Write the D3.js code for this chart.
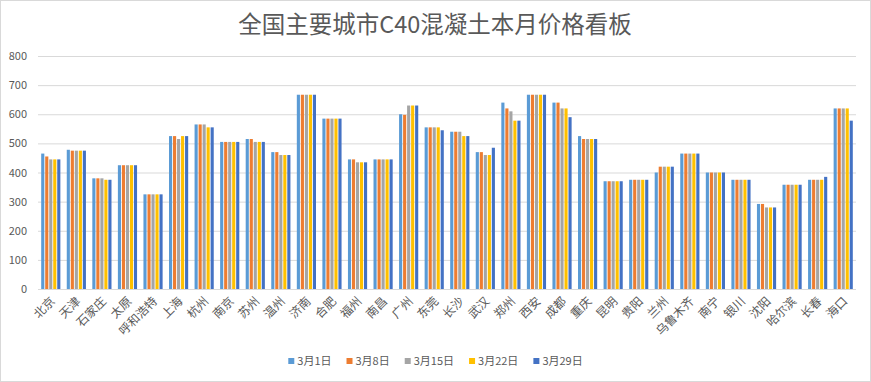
<!DOCTYPE html>
<html><head><meta charset="utf-8">
<script src="https://cdn.jsdelivr.net/npm/d3@7"></script>
<style>body{margin:0;background:#fff}svg{display:block}</style>
</head><body>
<svg id="c" width="871" height="382"></svg>
<script>
const cities = ["北京","天津","石家庄","太原","呼和浩特","上海","杭州","南京","苏州","温州","济南","合肥","福州","南昌","广州","东莞","长沙","武汉","郑州","西安","成都","重庆","昆明","贵阳","兰州","乌鲁木齐","南宁","银川","沈阳","哈尔滨","长春","海口"];
const seriesNames = ["3月1日","3月8日","3月15日","3月22日","3月29日"];
const mar01 = [465,478,380,425,325,525,565,505,515,470,667,585,445,445,600,555,540,470,640,667,640,525,370,375,400,465,400,375,292,358,375,620];
const mar08 = [455,475,380,425,325,525,565,505,515,470,667,585,445,445,598,555,540,470,620,667,640,515,370,375,420,465,400,375,292,358,375,620];
const mar15 = [445,475,380,425,325,515,565,505,505,460,667,585,435,445,630,555,540,460,610,667,620,515,370,375,420,465,400,375,280,358,375,620];
const mar22 = [445,475,375,425,325,525,555,505,505,460,667,585,435,445,630,555,525,460,578,667,620,515,370,375,420,465,400,375,280,358,375,620];
const mar29 = [445,475,375,425,325,525,555,505,505,460,667,585,435,445,630,545,525,485,578,667,590,515,370,375,420,465,400,375,280,358,385,578];
const yTicks = [0,100,200,300,400,500,600,700,800];
const colors = ["#5B9BD5","#ED7D31","#A5A5A5","#FFC000","#4472C4"];
const series = [mar01,mar08,mar15,mar22,mar29];

const svg = d3.select("#c");
const W = 871, H = 382;
const m = {l:38, r:15, t:56, b:93};
const font = "'Noto Sans CJK SC','Noto Sans',sans-serif";
const txt = "#595959", grid = "#d9d9d9";

svg.append("rect").attr("x",0.5).attr("y",0.5).attr("width",W-1).attr("height",H-1)
  .attr("fill","#fff").attr("stroke","#d9d9d9");

svg.append("text").attr("x",435).attr("y",33).attr("text-anchor","middle")
  .attr("font-family",font).attr("font-size",23.5).attr("fill",txt)
  .text("全国主要城市C40混凝土本月价格看板");

const x = d3.scaleBand().domain(cities).range([m.l, W-m.r]).paddingInner(0.25).paddingOuter(0.125);
const xs = d3.scaleBand().domain(seriesNames).range([0, x.bandwidth()]).paddingInner(0.22);
const y = d3.scaleLinear().domain([0,800]).range([H-m.b, m.t]);

const yAxis = svg.append("g").attr("transform",`translate(${m.l},0)`)
  .call(d3.axisLeft(y).tickValues(yTicks).tickSize(-(W-m.l-m.r)).tickPadding(11));
yAxis.select(".domain").remove();
yAxis.selectAll(".tick line").attr("stroke",grid);
yAxis.selectAll(".tick text").attr("font-family",font).attr("font-size",11).attr("fill",txt);

const groups = svg.append("g").selectAll("g").data(series).join("g")
  .attr("fill",(d,i)=>colors[i]);
groups.each(function(vals, si){
  d3.select(this).selectAll("rect").data(vals).join("rect")
    .attr("x",(d,i)=>x(cities[i]) + xs(seriesNames[si]))
    .attr("width",xs.bandwidth())
    .attr("y",d=>y(d))
    .attr("height",d=>y(0)-y(d));
});

const xAxis = svg.append("g").attr("transform",`translate(0,${y(0)})`)
  .call(d3.axisBottom(x).tickSize(0).tickPadding(0));
xAxis.select(".domain").attr("stroke",grid).attr("d",`M${m.l},0.5H${W-m.r}`);
xAxis.selectAll(".tick text")
  .attr("font-family",font).attr("font-size",12).attr("fill",txt)
  .attr("text-anchor","end").attr("dy",0)
  .attr("transform","translate(5,13) rotate(-45)");

// legend
const lg = svg.append("g").attr("transform","translate(0,361)");
const items = lg.selectAll("g").data(seriesNames).join("g");
items.append("rect").attr("width",6).attr("height",6).attr("y",-3).attr("fill",(d,i)=>colors[i]);
items.append("text").attr("x",9).attr("dy","0.35em").attr("font-family",font).attr("font-size",11)
  .attr("fill",txt).text(d=>d);
let widths = [];
items.each(function(){ widths.push(this.getBBox().width); });
const gap = 15;
const total = d3.sum(widths) + gap*(widths.length-1);
let cx = (W - total)/2;
items.each(function(d,i){ d3.select(this).attr("transform",`translate(${cx},0)`); cx += widths[i]+gap; });
</script>
</body></html>
